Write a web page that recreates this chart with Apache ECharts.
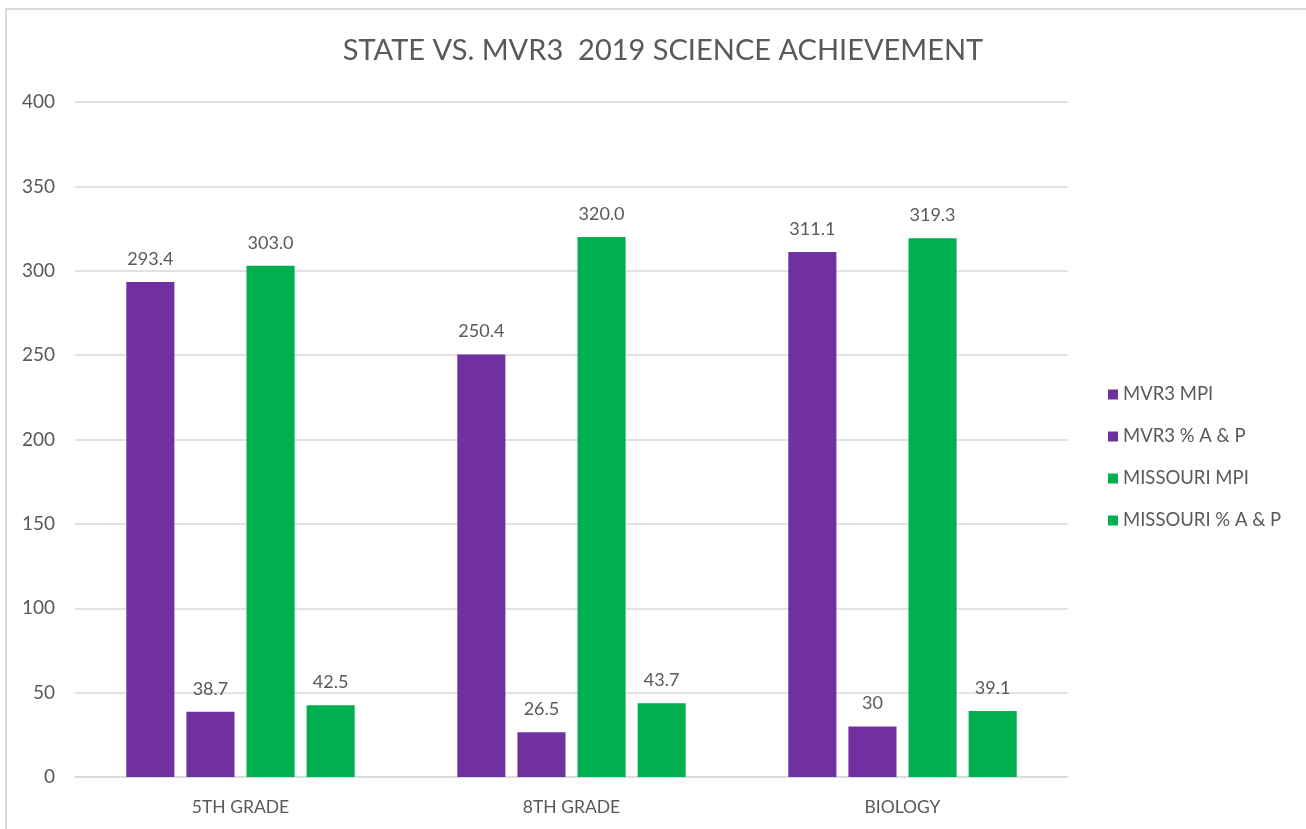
<!DOCTYPE html>
<html>
<head>
<meta charset="utf-8">
<script src="https://cdn.jsdelivr.net/npm/echarts@6/dist/echarts.min.js"></script>
<style>
  html, body { margin: 0; padding: 0; background: #fff; }
  #chart { width: 1306px; height: 829px; }
</style>
</head>
<body>
<div id="chart"></div>
<script>
// data
const categories = ['5TH GRADE', '8TH GRADE', 'BIOLOGY'];
const seriesNames = ['MVR3 MPI', 'MVR3 % A & P', 'MISSOURI MPI', 'MISSOURI % A & P'];
const mvr3Mpi = [293.4, 250.4, 311.1];
const mvr3Pct = [38.7, 26.5, 30];
const moMpi = [303.0, 320.0, 319.3];
const moPct = [42.5, 43.7, 39.1];
const yTicks = [0, 50, 100, 150, 200, 250, 300, 350, 400];

const PURPLE = '#7030A0';
const GREEN = '#00B050';
const TEXT = '#595959';
const FONT = 'Lato, "Open Sans", sans-serif';

const chart = echarts.init(document.getElementById('chart'));

function bar(name, data, color, oneDecimal) {
    return {
        name: name,
        type: 'bar',
        data: data,
        barGap: '25%',
        barCategoryGap: '31%',
        itemStyle: { color: color },
        label: {
            show: true,
            position: 'top',
            distance: 14,
            color: TEXT,
            fontSize: 18,
            fontFamily: FONT,
            formatter: p => oneDecimal ? p.value.toFixed(1) : String(p.value)
        }
    };
}

chart.setOption({
    animation: false,
    title: {
        text: 'STATE VS. MVR3  2019 SCIENCE ACHIEVEMENT',
        left: 658,
        textAlign: 'center',
        top: 31,
        textStyle: { color: TEXT, fontSize: 29, fontWeight: 'normal', fontFamily: FONT }
    },
    legend: {
        orient: 'vertical',
        left: 1103,
        top: 380,
        itemWidth: 10,
        itemHeight: 10,
        itemGap: 23,
        icon: 'rect',
        textStyle: { color: TEXT, fontSize: 18.5, fontFamily: FONT },
        data: seriesNames
    },
    grid: { left: 75, right: 238, top: 102, bottom: 52, containLabel: false },
    xAxis: {
        type: 'category',
        data: categories,
        axisLine: { lineStyle: { color: '#d9d9d9', width: 1.5 } },
        axisTick: { show: false },
        axisLabel: { color: TEXT, fontSize: 17.5, fontFamily: FONT, margin: 21 }
    },
    yAxis: {
        type: 'value',
        min: yTicks[0],
        max: yTicks[yTicks.length - 1],
        interval: 50,
        axisLine: { show: false },
        axisTick: { show: false },
        splitLine: { lineStyle: { color: '#d9d9d9', width: 1.5 } },
        axisLabel: { color: TEXT, fontSize: 19, fontFamily: FONT, margin: 20 }
    },
    graphic: [{
        type: 'rect',
        shape: { x: 6, y: 9, width: 1400, height: 900 },
        style: { fill: 'none', stroke: '#d9d9d9', lineWidth: 2 },
        silent: true
    }],
    series: [
        bar(seriesNames[0], mvr3Mpi, PURPLE, true),
        bar(seriesNames[1], mvr3Pct, PURPLE, false),
        bar(seriesNames[2], moMpi, GREEN, true),
        bar(seriesNames[3], moPct, GREEN, false)
    ]
});

window.addEventListener('resize', () => chart.resize());
</script>
</body>
</html>
